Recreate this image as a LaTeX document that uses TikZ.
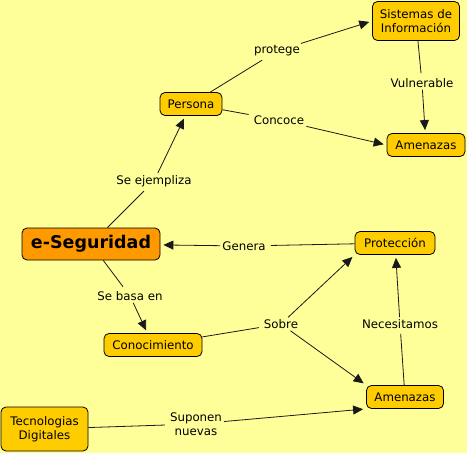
\documentclass[tikz,border=0pt]{standalone}
\usepackage{fontspec}
\setmainfont{DejaVu Sans}
\usetikzlibrary{positioning, arrows.meta}

\definecolor{mapbg}{HTML}{FFFF99}
\definecolor{conceptfill}{HTML}{FFCC00}
\definecolor{rootfill}{HTML}{FF9900}

\begin{document}
\begin{tikzpicture}[x=1pt, y=-1pt, >={Triangle[length=10pt,width=9pt]}, font=\fontsize{11.8}{13.5}\selectfont]
        \tikzstyle{concept} = [rectangle, draw=black, line width=0.8pt, fill=conceptfill, rounded corners=5pt, align=center, inner xsep=4pt, inner ysep=3pt, minimum height=23pt]
        \tikzstyle{root} = [concept, fill=rootfill, font=\fontsize{17.5}{20}\selectfont\bfseries, minimum width=138pt, minimum height=32pt]
        \tikzstyle{linking} = [fill=mapbg, inner sep=2pt, align=center]
        \tikzstyle{link} = [draw=black!90, line width=0.8pt, shorten >=3pt]

        % fond et cadre
        \fill [mapbg] (0,0) rectangle (467,453);
        \useasboundingbox (0,0) rectangle (467,453);

        % concepts
        \node [root] (seg) at (91,244) {e-Seguridad};
        \node [concept, minimum width=62pt] (persona) at (191,104) {Persona};
        \node [concept, minimum width=87pt, minimum height=39pt] (sistemas) at (416,21) {Sistemas de\\Información};
        \node [concept, minimum width=78pt] (amenazas1) at (426,145) {Amenazas};
        \node [concept, minimum width=80pt] (proteccion) at (395,243) {Protección};
        \node [concept, minimum width=98pt] (conocimiento) at (153,345) {Conocimiento};
        \node [concept, minimum width=77pt] (amenazas2) at (405,397) {Amenazas};
        \node [concept, minimum width=87pt, minimum height=44pt] (tecnologias) at (44.5,429) {Tecnologias\\Digitales};

        % frases de enlace
        \node [linking] (protege) at (277,51) {protege};
        \node [linking] (vulnerable) at (422,83) {Vulnerable};
        \node [linking] (concoce) at (279,120) {Concoce};
        \node [linking] (ejempliza) at (154,181) {Se ejempliza};
        \node [linking] (genera) at (244,246) {Genera};
        \node [linking] (basa) at (130,296) {Se basa en};
        \node [linking] (sobre) at (281,324) {Sobre};
        \node [linking] (necesitamos) at (400,324) {Necesitamos};
        \node [linking] (suponen) at (196,424) {Suponen\\nuevas};

        % enlaces
        \draw [link] (persona) -- (protege);
        \draw [link, ->] (protege) -- (sistemas.west);
        \draw [link] (sistemas) -- (vulnerable);
        \draw [link, ->] (vulnerable) -- (amenazas1);
        \draw [link] (persona) -- (concoce);
        \draw [link, ->] (concoce) -- (amenazas1.west);
        \draw [link] (seg) -- (ejempliza);
        \draw [link, ->] (ejempliza) -- (persona);
        \draw [link] (proteccion) -- (genera);
        \draw [link, ->] (genera) -- (seg);
        \draw [link] (seg) -- (basa);
        \draw [link, ->] (basa) -- (conocimiento);
        \draw [link] (conocimiento) -- (sobre);
        \draw [link, ->] (sobre) -- (proteccion.south west);
        \draw [link, ->] (sobre) -- (amenazas2.north west);
        \draw [link] (amenazas2) -- (necesitamos);
        \draw [link, ->] (necesitamos) -- (proteccion);
        \draw [link] (tecnologias) -- (suponen);
        \draw [link, ->] (suponen) -- (amenazas2.south west);

    \end{tikzpicture}
\end{document}
